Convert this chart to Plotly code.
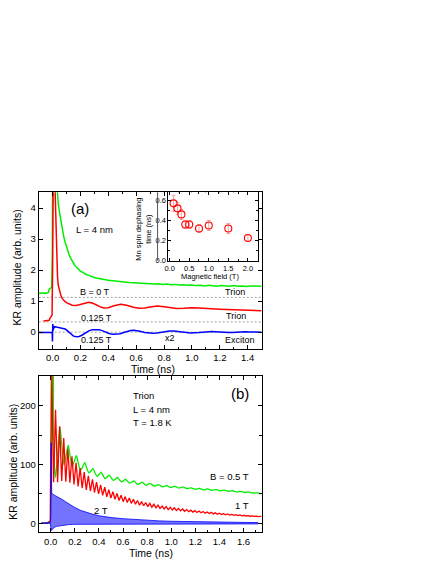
import plotly.graph_objects as go

# ---------------- data: panel (a) ----------------
a_green_t = [-0.1, -0.09, -0.08, -0.07, -0.06, -0.05, -0.04, -0.03, -0.025, -0.02, -0.012, -0.006, -0.002, 0.0, 0.02,
             0.03, 0.04, 0.05, 0.06, 0.07, 0.08, 0.09, 0.1, 0.11, 0.12, 0.13, 0.14, 0.15, 0.16, 0.17, 0.18, 0.19, 0.2,
             0.22, 0.24, 0.26, 0.28, 0.3, 0.32, 0.34, 0.36, 0.38, 0.4, 0.43, 0.46, 0.49, 0.52, 0.55, 0.58, 0.61, 0.64,
             0.67, 0.7, 0.73, 0.76, 0.79, 0.82, 0.85, 0.88, 0.91, 0.94, 0.97, 1.0, 1.03, 1.06, 1.09, 1.12, 1.15, 1.18,
             1.21, 1.24, 1.27, 1.3, 1.33, 1.36, 1.39, 1.42, 1.45, 1.48, 1.5]
a_green_v = [1.26, 1.25, 1.27, 1.25, 1.26, 1.25, 1.27, 1.28, 1.38, 1.40, 1.42, 1.45, 2.5, 4.9, 5.5,
             4.6, 4.15, 3.85, 3.55, 3.3, 3.08, 2.9, 2.74, 2.6, 2.48, 2.38, 2.29, 2.22, 2.15, 2.1, 2.05, 2.0, 1.97,
             1.92, 1.86, 1.83, 1.79, 1.76, 1.74, 1.72, 1.70, 1.69, 1.67, 1.66, 1.64, 1.63, 1.62, 1.60, 1.59, 1.58, 1.58,
             1.56, 1.57, 1.55, 1.56, 1.54, 1.55, 1.53, 1.54, 1.52, 1.53, 1.51, 1.52, 1.50, 1.51, 1.49, 1.51, 1.50, 1.48,
             1.50, 1.49, 1.48, 1.50, 1.48, 1.49, 1.47, 1.49, 1.48, 1.47, 1.48]

a_red_t = [-0.065, -0.05, -0.035, -0.025, -0.018, -0.01, -0.004, 0.0, 0.004, 0.012, 0.018, 0.024, 0.03, 0.035, 0.04,
           0.05, 0.06, 0.07, 0.08, 0.09, 0.1, 0.12, 0.14, 0.17, 0.2, 0.23, 0.26, 0.29, 0.32, 0.35, 0.37, 0.4, 0.44,
           0.49, 0.53, 0.58, 0.62, 0.66, 0.71, 0.75, 0.8, 0.85, 0.89, 0.94, 1.0, 1.05, 1.1, 1.15, 1.2, 1.25, 1.3,
           1.35, 1.4, 1.45, 1.5]
a_red_v = [0.36, 0.36, 0.37, 0.38, 0.45, 0.5, 0.55, 2.0, 4.8, 5.5, 4.5, 3.0, 2.2, 1.8, 1.52,
           1.3, 1.17, 1.08, 1.02, 0.98, 0.95, 0.9, 0.87, 0.86, 0.89, 0.94, 0.96, 0.93, 0.86, 0.8, 0.78, 0.79, 0.85,
           0.9, 0.87, 0.8, 0.77, 0.78, 0.82, 0.84, 0.82, 0.78, 0.76, 0.77, 0.79, 0.78, 0.76, 0.75, 0.74, 0.73, 0.72,
           0.71, 0.71, 0.70, 0.69]

a_blue_t = [-0.1, -0.06, -0.02, -0.003, -0.001, 0.001, 0.004, 0.008, 0.012, 0.02, 0.03, 0.045, 0.06, 0.075, 0.09,
            0.105, 0.12, 0.135, 0.15, 0.17, 0.19, 0.21, 0.235, 0.26, 0.285, 0.31, 0.335, 0.36, 0.385, 0.41, 0.435,
            0.46, 0.485, 0.51, 0.535, 0.56, 0.585, 0.61, 0.635, 0.66, 0.69, 0.72, 0.75, 0.78, 0.81, 0.84, 0.87, 0.9,
            0.93, 0.96, 0.99, 1.02, 1.05, 1.08, 1.11, 1.14, 1.17, 1.2, 1.23, 1.26, 1.29, 1.32, 1.35, 1.38, 1.41,
            1.44, 1.47, 1.5]
a_blue_v = [-0.01, -0.01, -0.01, -0.01, -0.3, 0.26, 0.05, 0.2, 0.14, 0.17, 0.16, 0.16, 0.15, 0.13, 0.1,
            0.05, -0.02, -0.09, -0.13, -0.15, -0.14, -0.1, -0.03, 0.04, 0.08, 0.09, 0.08, 0.04, -0.01, -0.05, -0.07,
            -0.07, -0.05, -0.01, 0.03, 0.055, 0.06, 0.05, 0.02, -0.01, -0.035, -0.04, -0.03, -0.005, 0.02, 0.035, 0.04, 0.03,
            0.01, -0.01, -0.025, -0.025, -0.015, 0.0, 0.015, 0.02, 0.015, 0.0, -0.01, -0.015, -0.012, 0.0, 0.01, 0.012, 0.008,
            0.0, -0.005, -0.005]

a_zero_levels = [1.12, 0.33, 0.0]

# inset: Mn spin dephasing time vs magnetic field
inset_B = [0.1, 0.2, 0.3, 0.4, 0.5, 0.75, 1.0, 1.5, 2.0]
inset_tau = [0.57, 0.52, 0.46, 0.36, 0.36, 0.32, 0.35, 0.32, 0.225]
inset_err = [0.08, 0.06, 0.05, 0.04, 0.04, 0.04, 0.05, 0.05, 0.03]

# ---------------- data: panel (b) ----------------
b_green_t = [-0.08, -0.04, -0.015, -0.005, 0.0, 0.006, 0.01, 0.016, 0.022, 0.03, 0.04, 0.058, 0.076, 0.094, 0.11,
             0.128, 0.145, 0.162, 0.179, 0.196, 0.213, 0.23, 0.247, 0.265, 0.282, 0.299, 0.316, 0.333, 0.35, 0.367,
             0.384, 0.401, 0.418, 0.435, 0.452, 0.469, 0.486, 0.503, 0.52, 0.537, 0.553, 0.57, 0.587, 0.604, 0.62,
             0.637, 0.655, 0.672, 0.69, 0.706, 0.723, 0.74, 0.757, 0.774, 0.79, 0.808, 0.825, 0.842, 0.86, 0.877,
             0.894, 0.911, 0.928, 0.945, 0.962, 0.979, 0.996, 1.013, 1.03, 1.047, 1.064, 1.081, 1.098, 1.115, 1.132,
             1.15, 1.167, 1.184, 1.2, 1.218, 1.235, 1.252, 1.27, 1.286, 1.303, 1.32, 1.337, 1.354, 1.372, 1.389,
             1.406, 1.423, 1.44, 1.457, 1.474, 1.491, 1.508, 1.525, 1.543, 1.56, 1.577, 1.594, 1.611, 1.628, 1.645,
             1.662, 1.68, 1.697, 1.713, 1.73, 1.75]
b_green_v = [0.5, 0.3, 0.8, 2.0, 15, 150, 270, 270, 180, 100, 78, 121, 164, 128, 100,
             116, 133, 113, 97, 106, 115, 101, 90, 96, 103, 94, 86, 89, 93, 86, 80, 83, 87, 81, 76, 79, 82, 77, 73,
             75.5, 78, 74, 70.5, 72.5, 75, 71.5, 68.5, 70, 72, 69, 66.5, 68, 70, 67.5, 65, 66.5, 68, 65.5, 63.5,
             64.5, 66, 64, 62, 63, 64.5, 62.5, 61, 62, 63, 61.5, 60, 61, 62, 60.5, 59, 59.8, 60.5, 59, 58, 58.8,
             59.5, 58.2, 57, 57.8, 58.5, 57.2, 56, 56.8, 57.5, 56.4, 55.5, 56, 56.5, 55.5, 54.5, 55, 55.5, 54.5,
             53.5, 54, 54.5, 53.5, 52.5, 52.9, 53.2, 52.3, 51.5, 51.8, 52, 51.2, 50.5]

b_red_t = [-0.06, -0.03, -0.012, -0.004, 0.0, 0.004, 0.01, 0.016, 0.024, 0.04, 0.057, 0.074, 0.091, 0.108, 0.125,
           0.142, 0.159, 0.176, 0.193, 0.21, 0.227, 0.244, 0.261, 0.278, 0.295, 0.312, 0.329, 0.346, 0.363, 0.38,
           0.397, 0.414, 0.431, 0.448, 0.465, 0.482, 0.499, 0.516, 0.533, 0.55, 0.567, 0.584, 0.601, 0.618, 0.635,
           0.652, 0.669, 0.686, 0.703, 0.72, 0.737, 0.754, 0.771, 0.788, 0.805, 0.822, 0.839, 0.856, 0.873, 0.89,
           0.907, 0.924, 0.941, 0.958, 0.975, 0.992, 1.009, 1.026, 1.043, 1.06, 1.077, 1.094, 1.111, 1.128, 1.145,
           1.162, 1.179, 1.196, 1.213, 1.23, 1.247, 1.264, 1.281, 1.298, 1.315, 1.332, 1.349, 1.366, 1.383, 1.4,
           1.417, 1.434, 1.451, 1.468, 1.485, 1.502, 1.519, 1.536, 1.553, 1.57, 1.587, 1.604, 1.621, 1.638, 1.655,
           1.672, 1.689, 1.706, 1.723, 1.74, 1.75]
b_red_v = [0.5, 0.5, 3, 4, 120, 270, 270, 150, 70, 193, 70, 165, 72, 145, 71,
           127, 69, 114, 66, 103, 63, 94, 60, 87, 57, 81, 55, 75, 52.5, 70, 50, 65.5, 47.5, 61.5, 45, 57.5,
           43, 54, 41, 51, 39, 48, 37, 45.5, 35.5, 43, 34, 41, 32.5, 39, 31, 37, 30, 35.5, 28.5, 34, 27.5, 32.5,
           26.5, 31, 25.5, 29.5, 24.5, 28.5, 23.5, 27.5, 22.7, 26.5, 22, 25.5, 21.3, 24.5, 20.6, 23.5, 19.9, 22.5,
           19.2, 21.7, 18.6, 21, 18, 20.2, 17.4, 19.5, 16.8, 18.8, 16.2, 18, 15.7, 17.3, 15.2, 16.6, 14.7, 16,
           14.2, 15.4, 13.8, 14.8, 13.4, 14.3, 13, 13.8, 12.6, 13.3, 12.2, 12.9, 11.9, 12.5, 11.6, 12.1, 11.8]

# 2 T trace: fast precession, read as an upper and lower envelope of the band
b_blue_up_t = [-0.08, -0.03, -0.005, -0.001, 0.001, 0.004, 0.008, 0.015, 0.03, 0.05, 0.075, 0.1, 0.125, 0.15,
               0.175, 0.2, 0.25, 0.3, 0.35, 0.4, 0.45, 0.5, 0.6, 0.7, 0.8, 0.9, 1.0, 1.1, 1.2, 1.3, 1.4, 1.5, 1.6, 1.72]
b_blue_up_v = [0.5, 0.5, 1.0, 2.0, 137, 137, 52, 50, 48, 46, 43, 40, 36.5, 33,
               30, 27, 22, 18.5, 15.5, 13, 11.3, 10, 8, 6.5, 5.2, 4.3, 3.6, 3.1, 2.7, 2.3, 2.0, 1.7, 1.5, 1.3]
b_blue_lo_t = [-0.08, -0.03, -0.005, -0.001, 0.003, 0.006, 0.012, 0.02, 0.035, 0.05, 0.075, 0.1, 0.15, 0.2,
               0.3, 0.4, 0.5, 0.6, 0.8, 1.0, 1.2, 1.4, 1.6, 1.72]
b_blue_lo_v = [0.5, 0.5, 0.8, 0.5, -8, -12, -10, -8, -6, -5, -4, -3, -2, -1.5,
               -1, -0.6, -0.4, -0.3, -0.5, -0.8, -0.8, -0.8, -0.8, -0.8]

# ---------------- layout helpers ----------------
W, H = 436, 564
FONT = "Liberation Sans Narrow, Arial Narrow, Liberation Sans, Arial, sans-serif"
GREEN, RED, BLUE = "#00ee00", "#ff0000", "#0000ff"


def fx(p):
    return p / W


def fy(p):
    return 1 - p / H


fig = go.Figure()

# panel (a)
for lvl in a_zero_levels:
    fig.add_trace(go.Scatter(x=[-0.1, 1.5], y=[lvl, lvl], mode="lines",
                             line=dict(color="#777777", width=0.7, dash="2px,2px"),
                             xaxis="x", yaxis="y", showlegend=False, hoverinfo="skip"))
fig.add_trace(go.Scatter(x=a_green_t, y=a_green_v, mode="lines", line=dict(color=GREEN, width=1.5),
                         xaxis="x", yaxis="y", showlegend=False))
fig.add_trace(go.Scatter(x=a_red_t, y=a_red_v, mode="lines", line=dict(color=RED, width=1.5),
                         xaxis="x", yaxis="y", showlegend=False))
fig.add_trace(go.Scatter(x=a_blue_t, y=a_blue_v, mode="lines", line=dict(color=BLUE, width=1.5),
                         xaxis="x", yaxis="y", showlegend=False))

# inset
fig.add_trace(go.Scatter(x=inset_B, y=inset_tau, mode="markers",
                         marker=dict(symbol="circle-open", size=7, color=RED, line=dict(width=1.1, color=RED)),
                         error_y=dict(type="data", array=inset_err, color="#f4a6a6", thickness=1, width=2),
                         xaxis="x3", yaxis="y3", showlegend=False))

# panel (b)
fig.add_trace(go.Scatter(x=b_green_t, y=b_green_v, mode="lines", line=dict(color=GREEN, width=1.3, shape="spline", smoothing=0.8),
                         xaxis="x2", yaxis="y2", showlegend=False))
fig.add_trace(go.Scatter(x=b_red_t, y=b_red_v, mode="lines", line=dict(color=RED, width=1.3),
                         xaxis="x2", yaxis="y2", showlegend=False))
fig.add_trace(go.Scatter(x=b_blue_up_t + b_blue_lo_t[::-1], y=b_blue_up_v + b_blue_lo_v[::-1], mode="lines",
                         fill="toself", fillcolor="rgba(40,40,255,0.65)", line=dict(color=BLUE, width=0.8),
                         xaxis="x2", yaxis="y2", showlegend=False))


def axis_style(**kw):
    d = dict(showline=True, linecolor="black", linewidth=1, mirror="allticks", ticks="inside",
             ticklen=4, tickwidth=1, tickcolor="black", showgrid=False, zeroline=False,
             tickfont=dict(family=FONT, size=9.5, color="black"))
    d.update(kw)
    return d


def minor(dt, ln=2):
    return dict(dtick=dt, ticks="inside", ticklen=ln, tickcolor="black", showgrid=False)


fig.update_layout(
    width=W, height=H, margin=dict(l=0, r=0, t=0, b=0),
    paper_bgcolor="white", plot_bgcolor="white",
    xaxis=axis_style(domain=[fx(35), fx(260)], range=[-0.1, 1.5], dtick=0.2, tick0=0, tickformat=".1f",
                     minor=minor(0.1), anchor="y"),
    yaxis=axis_style(domain=[fy(352), fy(194)], range=[-0.54, 4.51], dtick=1, tick0=0, anchor="x"),
    xaxis2=axis_style(domain=[fx(35), fx(260)], range=[-0.1, 1.75], dtick=0.2, tick0=0, tickformat=".1f",
                      minor=minor(0.1), anchor="y2"),
    yaxis2=axis_style(domain=[fy(537), fy(379)], range=[-15, 251], dtick=100, tick0=0,
                      minor=minor(50, 3), anchor="x2"),
    xaxis3=axis_style(domain=[fx(166), fx(256)], range=[-0.03, 2.25], dtick=0.5, tick0=0, tickformat=".1f",
                      ticklen=3, minor=minor(0.25), tickfont=dict(family=FONT, size=7.5, color="black"), anchor="y3"),
    yaxis3=axis_style(domain=[fy(263), fy(194)], range=[0, 0.68], dtick=0.2, tick0=0, tickformat=".1f",
                      ticklen=3, minor=minor(0.1), tickfont=dict(family=FONT, size=7.5, color="black"), anchor="x3"),
    shapes=[dict(type="line", xref="paper", yref="paper", x0=fx(155), x1=fx(155), y0=fy(194), y1=fy(263),
                 line=dict(color="#555555", width=1))],
)


def ann(text, x, y, size=9.5, angle=0, xanchor="center"):
    fig.add_annotation(text=text, x=fx(x), y=fy(y), xref="paper", yref="paper", showarrow=False,
                       xanchor=xanchor, yanchor="middle", textangle=angle,
                       font=dict(family=FONT, size=size, color="black"))


# panel (a) labels
ann("(a)", 76.5, 210, 15)
ann("L = 4 nm", 91.5, 231.5, 9.5)
ann("B = 0 T", 91.5, 294.5, 9)
ann("0.125 T", 93.5, 320.5, 9)
ann("0.125 T", 93.5, 343, 9)
ann("x2", 167.5, 341.5, 9)
ann("Trion", 233.5, 295, 9)
ann("Trion", 234.5, 319, 9)
ann("Exciton", 238.5, 343.5, 9)
ann("Time (ns)", 150, 372, 10.5)
ann("KR amplitude (arb. units)", 13, 270, 10.5, -90)
ann("Mn spin dephasing<br>time (ns)", 141, 231, 7.5, -90)
ann("Magnetic field (T)", 208, 279, 7.5)

# panel (b) labels
ann("(b)", 238.5, 397.5, 15)
ann("Trion", 128, 399.5, 9.5, xanchor="left")
ann("L = 4 nm", 128, 413, 9.5, xanchor="left")
ann("T = 1.8 K", 128, 426.5, 9.5, xanchor="left")
ann("B = 0.5 T", 228, 481, 9.5)
ann("1 T", 240, 510.5, 9.5)
ann("2 T", 98, 515.5, 9.5)
ann("Time (ns)", 148, 557.5, 10.5)
ann("KR amplitude (arb. units)", 9, 466, 10.5, -90)

fig.write_html("out.html", config={"displayModeBar": False},
               post_script="document.body.style.margin='0px';")
